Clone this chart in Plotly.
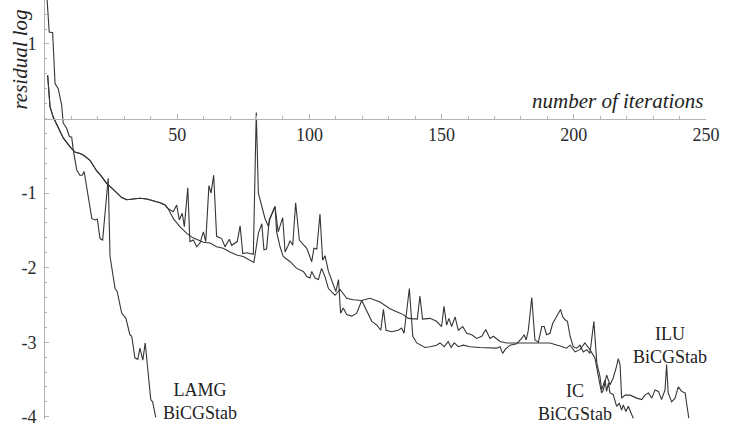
import plotly.graph_objects as go

# ---- data ----
# shared initial history of the IC and ILU preconditioned runs
shared_x = [1.0, 1.9, 3.1, 5.0, 6.9, 9.5, 11.3, 13.2, 14.5, 17.0, 19.5, 21.0, 23.3, 25.5,
            27.1, 29.0, 30.9, 33.0, 35.9, 38.5, 41.0, 43.5, 45.4, 46.6]
shared_y = [0.58, 0.16, 0.02, -0.13, -0.26, -0.38, -0.45, -0.47, -0.49, -0.56, -0.70, -0.76,
            -0.87, -0.94, -1.00, -1.06, -1.09, -1.08, -1.07, -1.08, -1.10, -1.13, -1.16, -1.21]

lamg_x = [0.5, 1.0, 1.6, 2.9, 3.8, 5.0, 6.3, 6.9, 8.2, 9.2, 10.1, 10.7, 12.0, 13.2, 14.1, 14.8,
          16.4, 17.7, 18.9, 19.8, 20.8, 21.8, 23.9, 24.6, 26.5, 27.3, 29.0, 30.6, 32.1, 32.8,
          34.0, 35.1, 35.9, 37.0, 37.9, 39.1, 40.0, 40.7, 41.3, 41.9]
lamg_y = [1.75, 1.50, 1.16, 1.15, 0.47, 0.40, 0.18, -0.06, -0.13, -0.24, -0.25, -0.42, -0.69,
          -0.76, -0.76, -0.71, -1.05, -1.34, -1.36, -1.35, -1.61, -1.63, -0.80, -1.85, -2.28,
          -2.32, -2.61, -2.68, -2.90, -2.92, -3.21, -3.23, -3.08, -3.24, -3.01, -3.42, -3.77,
          -3.80, -3.91, -4.01]

ic_x = [48.5, 49.8, 50.8, 51.9, 52.7, 54.0, 54.8, 56.1, 57.4, 58.6, 59.9, 60.8, 62.0, 62.8,
        63.8, 64.9, 66.8, 68.1, 69.7, 70.6, 72.7, 73.8, 74.8, 76.3, 78.8, 79.9, 80.7, 82.0,
        83.2, 84.5, 85.1, 87.0, 88.2, 89.9, 90.8, 92.0, 92.7, 93.7, 94.8, 96.2, 97.7, 99.0,
        100.9, 101.7, 102.8, 104.0, 105.0, 105.9, 107.2, 109.0, 110.0, 111.0, 111.8, 112.8,
        114.1, 116.0, 117.9, 119.8, 121.7, 123.6, 125.5, 127.0, 128.0, 129.0, 131.1, 133.6,
        134.9, 135.8, 137.8, 139.1, 140.6, 143.7, 145.6, 148.1, 149.4, 151.0, 152.5, 153.6,
        154.8, 156.3, 158.2, 160.7, 164.5, 168.3, 170.8, 172.1, 173.1, 174.2, 175.9, 178.4,
        180.3, 181.2, 182.0, 182.8, 184.1, 185.3, 186.6, 187.9, 188.8, 189.7, 191.0, 192.0,
        193.5, 195.0, 195.8, 196.7, 197.6, 198.6, 199.8, 201.1, 202.3, 203.6, 204.9, 206.1,
        207.6, 208.7, 209.9, 210.5, 211.2, 211.8, 212.4, 213.1, 213.7, 214.9, 216.2, 217.2,
        218.1, 218.7, 219.7, 220.6, 221.9, 222.5]
ic_y = [-1.25, -1.16, -1.36, -1.27, -1.45, -0.93, -1.65, -1.63, -1.72, -1.67, -1.52, -1.65,
        -0.90, -1.00, -0.76, -1.58, -1.61, -1.72, -1.62, -1.70, -1.65, -1.44, -1.81, -1.80,
        -1.82, 0.08, -1.00, -1.18, -1.34, -1.45, -1.34, -1.18, -1.52, -1.33, -1.79, -1.70,
        -1.64, -1.70, -1.13, -1.63, -1.69, -1.74, -1.92, -1.74, -1.75, -1.28, -1.90, -1.84,
        -2.05, -2.21, -2.32, -2.16, -2.61, -2.54, -2.63, -2.65, -2.61, -2.44, -2.59, -2.72,
        -2.77, -2.84, -2.56, -2.84, -2.86, -2.84, -2.81, -2.88, -2.28, -2.92, -3.01, -3.07,
        -3.06, -3.04, -3.01, -3.06, -2.99, -3.07, -3.01, -3.06, -3.04, -3.06, -3.07, -3.08,
        -3.08, -3.06, -3.15, -3.09, -3.04, -3.02, -2.95, -2.90, -2.97, -2.84, -2.40, -2.97,
        -3.00, -2.79, -2.79, -2.90, -2.88, -2.75, -2.66, -2.56, -2.66, -2.70, -2.72, -2.92,
        -3.06, -3.08, -3.04, -3.13, -3.10, -3.15, -2.72, -3.28, -3.46, -3.64, -3.57, -3.51,
        -3.66, -3.55, -3.68, -3.70, -3.86, -3.82, -3.91, -3.84, -3.93, -3.86, -3.97, -4.02]

ilu_x = [48.5, 51.0, 53.6, 56.0, 59.9, 62.4, 64.9, 67.4, 70.0, 72.5, 75.0, 77.5, 79.0, 80.7,
         82.0, 82.8, 83.8, 84.8, 87.0, 87.6, 88.9, 90.1, 92.7, 95.2, 97.7, 99.0, 100.2, 100.9,
         102.1, 103.4, 104.6, 105.9, 107.2, 109.7, 111.6, 114.1, 116.6, 119.8, 122.9, 126.7,
         128.6, 130.5, 133.0, 135.5, 137.4, 139.3, 140.8, 141.8, 142.8, 145.6, 148.1, 150.0,
         150.9, 151.9, 152.8, 153.8, 155.1, 156.3, 158.0, 159.5, 161.4, 163.3, 165.2, 166.7,
         168.3, 169.6, 172.1, 174.6, 179.6, 184.7, 191.0, 194.8, 197.3, 198.6, 200.5, 202.3,
         204.2, 206.1, 208.0, 209.3, 210.5, 211.2, 212.4, 213.7, 214.9, 216.2, 216.8, 217.5,
         218.1, 219.4, 221.3, 223.8, 225.7, 226.9, 228.2, 229.5, 230.7, 232.0, 233.2, 234.5,
         235.1, 235.7, 237.0, 238.3, 239.5, 240.8, 242.1, 243.5]
ilu_y = [-1.34, -1.45, -1.54, -1.60, -1.66, -1.67, -1.72, -1.74, -1.79, -1.83, -1.85, -1.90,
         -1.93, -1.54, -1.41, -1.76, -1.75, -1.36, -1.18, -1.52, -1.72, -1.85, -1.92, -2.01,
         -2.05, -2.12, -2.14, -2.05, -2.14, -2.16, -2.01, -2.12, -2.28, -2.37, -2.29, -2.41,
         -2.43, -2.44, -2.41, -2.46, -2.50, -2.55, -2.59, -2.63, -2.68, -2.69, -2.69, -2.38,
         -2.69, -2.68, -2.72, -2.79, -2.52, -2.77, -2.68, -2.79, -2.66, -2.84, -2.79, -2.88,
         -2.90, -2.95, -2.92, -2.83, -2.95, -2.92, -2.99, -3.01, -3.01, -3.01, -3.01, -3.05,
         -3.08, -3.04, -3.13, -3.10, -3.01, -3.10, -3.21, -3.46, -3.68, -3.64, -3.44, -3.57,
         -3.48, -3.32, -3.22, -3.30, -3.75, -3.71, -3.71, -3.75, -3.77, -3.71, -3.68, -3.75,
         -3.64, -3.66, -3.77, -3.64, -3.30, -3.68, -3.80, -3.75, -3.60, -3.66, -3.68, -4.02]

x_tick_vals = [50, 100, 150, 200, 250]
x_tick_text = ["50", "100", "150", "200", "250"]
y_tick_vals = [-4, -3, -2, -1, 1]
y_tick_text = ["-4", "-3", "-2", "-1", "1"]

series_names = ["LAMG BiCGStab", "IC BiCGStab", "ILU BiCGStab"]
label_text = ["LAMG<br>BiCGStab", "IC<br>BiCGStab", "ILU<br>BiCGStab"]
label_x = [58.6, 200.5, 236.4]
label_y = [-3.80, -3.81, -3.04]

assert len(lamg_x) == len(lamg_y)
assert len(ic_x) == len(ic_y)
assert len(ilu_x) == len(ilu_y)
assert len(shared_x) == len(shared_y)

# ---- figure ----
Y_MIN, Y_MAX = -4.03, 1.59
LINE = "#363636"
AXIS = "#b4b4b4"
SERIF = "Liberation Serif"

fig = go.Figure()
curves = [
    (lamg_x, lamg_y),
    (shared_x + ic_x, shared_y + ic_y),
    (shared_x + ilu_x, shared_y + ilu_y),
]
for name, (xs, ys) in zip(series_names, curves):
    fig.add_trace(go.Scatter(x=xs, y=ys, mode="lines", name=name,
                             line=dict(color=LINE, width=1.1)))

for t, lx, ly in zip(label_text, label_x, label_y):
    fig.add_annotation(x=lx, y=ly, xref="x", yref="y", text=t, showarrow=False,
                       xanchor="center", yanchor="middle", align="center",
                       font=dict(family=SERIF, size=18, color="#222222"))

# axis titles (placed as in the reference: on the axes)
fig.add_annotation(x=250, y=0.24, xref="x", yref="y", text="<i>number of iterations</i>",
                   showarrow=False, xanchor="right", yanchor="middle",
                   font=dict(family=SERIF, size=21, color="#222222"))
fig.add_annotation(x=-0.038, y=0.79, xref="paper", yref="y", text="<i>residual log</i>",
                   showarrow=False, textangle=-90, xanchor="center", yanchor="middle",
                   font=dict(family=SERIF, size=21, color="#222222"))

x_pos = (0 - Y_MIN) / (Y_MAX - Y_MIN)

fig.update_layout(
    width=748, height=426,
    margin=dict(l=45, r=42, t=0, b=7, pad=0),
    paper_bgcolor="white", plot_bgcolor="white",
    showlegend=False,
    xaxis=dict(range=[0, 250], anchor="free", position=x_pos, showline=True,
               linecolor=AXIS, linewidth=1, ticks="inside", ticklen=5, tickcolor=AXIS,
               tickmode="array", tickvals=x_tick_vals, ticktext=x_tick_text,
               tickfont=dict(family=SERIF, size=18, color="#2a2a2a"),
               ticklabelstandoff=0, ticklabeloverflow="allow",
               minor=dict(tickmode="linear", tick0=0, dtick=10, ticklen=3,
                          ticks="inside", tickcolor=AXIS),
               showgrid=False, zeroline=False, automargin=False),
    yaxis=dict(range=[Y_MIN, Y_MAX], anchor="x", showline=True,
               linecolor=AXIS, linewidth=1, ticks="inside", ticklen=4, tickcolor=AXIS,
               tickmode="array", tickvals=y_tick_vals, ticktext=y_tick_text,
               tickfont=dict(family=SERIF, size=18, color="#2a2a2a"),
               ticklabelstandoff=4, ticklabeloverflow="allow",
               minor=dict(tickmode="linear", tick0=0, dtick=0.2, ticklen=2,
                          ticks="inside", tickcolor=AXIS),
               showgrid=False, zeroline=False, automargin=False),
)

fig.write_html("out.html")
